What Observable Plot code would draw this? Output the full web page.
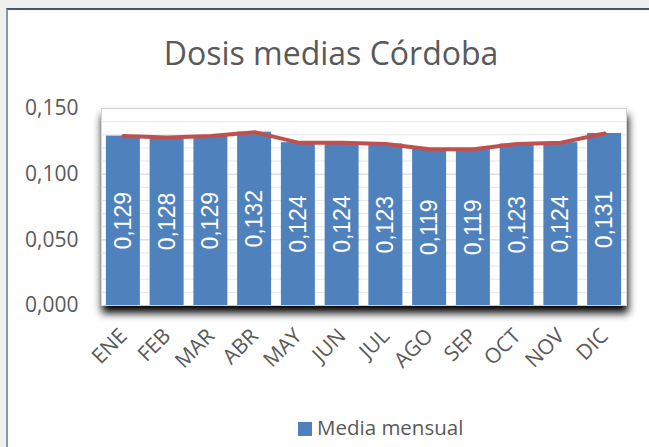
<!DOCTYPE html>
<html>
<head>
<meta charset="utf-8">
<script src="https://cdn.jsdelivr.net/npm/d3@7"></script>
<script src="https://cdn.jsdelivr.net/npm/@observablehq/plot@0.6"></script>
<style>
  body { margin:0; background:#f0f0f0; width:649px; height:447px; overflow:hidden; position:relative; }
  #panel { position:absolute; left:6px; top:8px; width:700px; height:500px; background:#fff;
           border-left:2px solid #8596ad; border-top:2px solid #44546a; }
  #title { position:absolute; left:0; width:662px; top:37px; text-align:center;
           font-family:"Open Sans"; font-size:32px; line-height:31px; color:#595959; }
  #chart { position:absolute; left:0; top:95px; }
  #legend { position:absolute; left:298px; top:417px; font-family:"Open Sans"; font-size:20.5px;
            line-height:20px; color:#595959; display:flex; align-items:center; }
  #legend .sw { width:14px; height:14px; background:#4f81bd; margin-right:5px; margin-top:4px; }
</style>
</head>
<body>
<div id="panel"></div>
<div id="title">Dosis medias Córdoba</div>
<div id="chart"></div>
<div id="legend"><div class="sw"></div><span id="legendText"></span></div>
<script>
const months = ["ENE","FEB","MAR","ABR","MAY","JUN","JUL","AGO","SEP","OCT","NOV","DIC"];
const values = [0.129,0.128,0.129,0.132,0.124,0.124,0.123,0.119,0.119,0.123,0.124,0.131];
const valueLabels = ["0,129","0,128","0,129","0,132","0,124","0,124","0,123","0,119","0,119","0,123","0,124","0,131"];
const yTicks = [0, 0.05, 0.10, 0.15];
const yTickLabels = ["0,000","0,050","0,100","0,150"];
const minorTicks = [0.01,0.02,0.03,0.04,0.06,0.07,0.08,0.09,0.11,0.12,0.13,0.14];
const seriesName = "Media mensual";

document.getElementById("legendText").textContent = seriesName;

const data = months.map((m, i) => ({month: m, value: values[i], label: valueLabels[i]}));

const chart = Plot.plot({
  width: 649,
  height: 290,
  marginTop: 13,
  marginBottom: 80,
  marginLeft: 101,
  marginRight: 23,
  style: {fontFamily: "Open Sans", background: "transparent", overflow: "visible"},
  x: {domain: months, paddingInner: 0.223, paddingOuter: 0.1115, round: false, label: null},
  y: {domain: [0, 0.15], label: null},
  marks: [
    Plot.frame({fill: "white", stroke: "#d6d6d6"}),
    Plot.gridY(minorTicks, {stroke: "#e6e6e6", strokeOpacity: 1}),
    Plot.gridY(yTicks, {stroke: "#d0d0d0", strokeOpacity: 1}),
    Plot.barY(data, {x: "month", y: "value", fill: "#4f81bd"}),
    Plot.text(data, {x: "month", y: d => d.value / 2, text: "label", rotate: -90,
      fill: "white", fontSize: 23, fontFamily: "Liberation Sans"}),
    Plot.lineY(data, {x: "month", y: "value", stroke: "#c0504d", strokeWidth: 4, strokeLinecap: "round"}),
    Plot.axisY({ticks: yTicks, tickFormat: (d) => yTickLabels[yTicks.indexOf(d)], tickSize: 0,
      tickPadding: 23, fontSize: 21, fill: "#595959", label: null}),
    Plot.axisX({tickRotate: -45, tickSize: 0, tickPadding: 27, fontSize: 21, fill: "#595959", label: null})
  ]
});
document.getElementById("chart").appendChild(chart);
const fr = chart.querySelector('[aria-label="frame"]');
if (fr) fr.style.filter = "drop-shadow(1px 7px 4px rgba(0,0,0,1))";
</script>
</body>
</html>
